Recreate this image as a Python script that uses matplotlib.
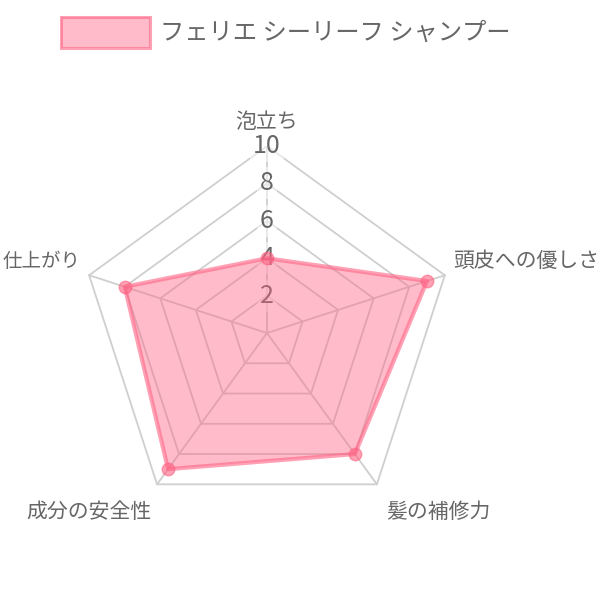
import numpy as np
import matplotlib
matplotlib.use("Agg")
import matplotlib.pyplot as plt
from matplotlib.patches import Rectangle

plt.rcParams['font.family'] = ['Noto Sans CJK JP', 'DejaVu Sans']

# ---- data ----
series_name = "フェリエ シーリーフ シャンプー"
categories = ["泡立ち", "頭皮への優しさ", "髪の補修力", "成分の安全性", "仕上がり"]
values = [4, 9, 8, 9, 8]
tick_values = [2, 4, 6, 8, 10]
r_max = 10

pink = '#ff6384'
grid_c = '#cfcfcf'
text_c = '#666666'

fig = plt.figure(figsize=(6, 6), dpi=100)
ax = fig.add_axes([0.1333, 0.1333, 0.6233, 0.6233])
ax.set_xlim(-r_max, r_max)
ax.set_ylim(-r_max, r_max)
ax.set_aspect('equal')
ax.axis('off')

n = len(categories)
theta = np.arange(n) * 2 * np.pi / n  # clockwise from top

def xy(r, t):
    return np.asarray(r) * np.sin(t), np.asarray(r) * np.cos(t)

tc = np.append(theta, theta[0])
# grid rings
for lvl in tick_values:
    x, y = xy(np.full(len(tc), lvl), tc)
    ax.plot(x, y, color=grid_c, lw=1.3, zorder=1)
# spokes
for t in theta:
    x, y = xy([0, r_max], np.array([t, t]))
    ax.plot(x, y, color=grid_c, lw=1.3, zorder=1)

# tick labels
for lvl in tick_values:
    ax.text(0, lvl, str(lvl), ha='center', va='center', fontsize=18,
            color=text_c, zorder=2,
            bbox=dict(boxstyle='square,pad=0.12', fc='white', ec='none', alpha=0.5))

# data
vc = np.append(values, values[0])
x, y = xy(vc, tc)
ax.fill(x, y, color=pink, alpha=0.43, lw=0, zorder=3)
ax.plot(x, y, color=pink, alpha=0.6, lw=3, zorder=4)
ax.plot(x[:-1], y[:-1], 'o', ms=9, mfc=pink, mec=pink, alpha=0.6, zorder=5)

# axis labels
offsets = [(0, 17, 'center', 15), (5.8, 10, 'left', 15), (6.5, -20, 'left', 15),
           (-4.3, -20, 'right', 15), (-6.5, 10, 'right', 14)]
for cat, t, (dx, dy, ha, fs) in zip(categories, theta, offsets):
    vx, vy = xy(r_max, t)
    ax.annotate(cat, xy=(vx, vy), xytext=(dx, dy), textcoords='offset points',
                ha=ha, va='center', fontsize=fs, color=text_c)

# legend
fig.patches.append(Rectangle((0.1017, 0.92), 0.1483, 0.0517, transform=fig.transFigure,
                             facecolor=pink, alpha=0.43, edgecolor='none'))
fig.patches.append(Rectangle((0.1017, 0.92), 0.1483, 0.0517, transform=fig.transFigure,
                             facecolor='none', edgecolor=pink, alpha=0.6, lw=2.2))
fig.text(0.2667, 0.945, series_name, ha='left', va='center', fontsize=17.5, color=text_c)

fig.savefig('out.png', dpi=100, facecolor='white')
